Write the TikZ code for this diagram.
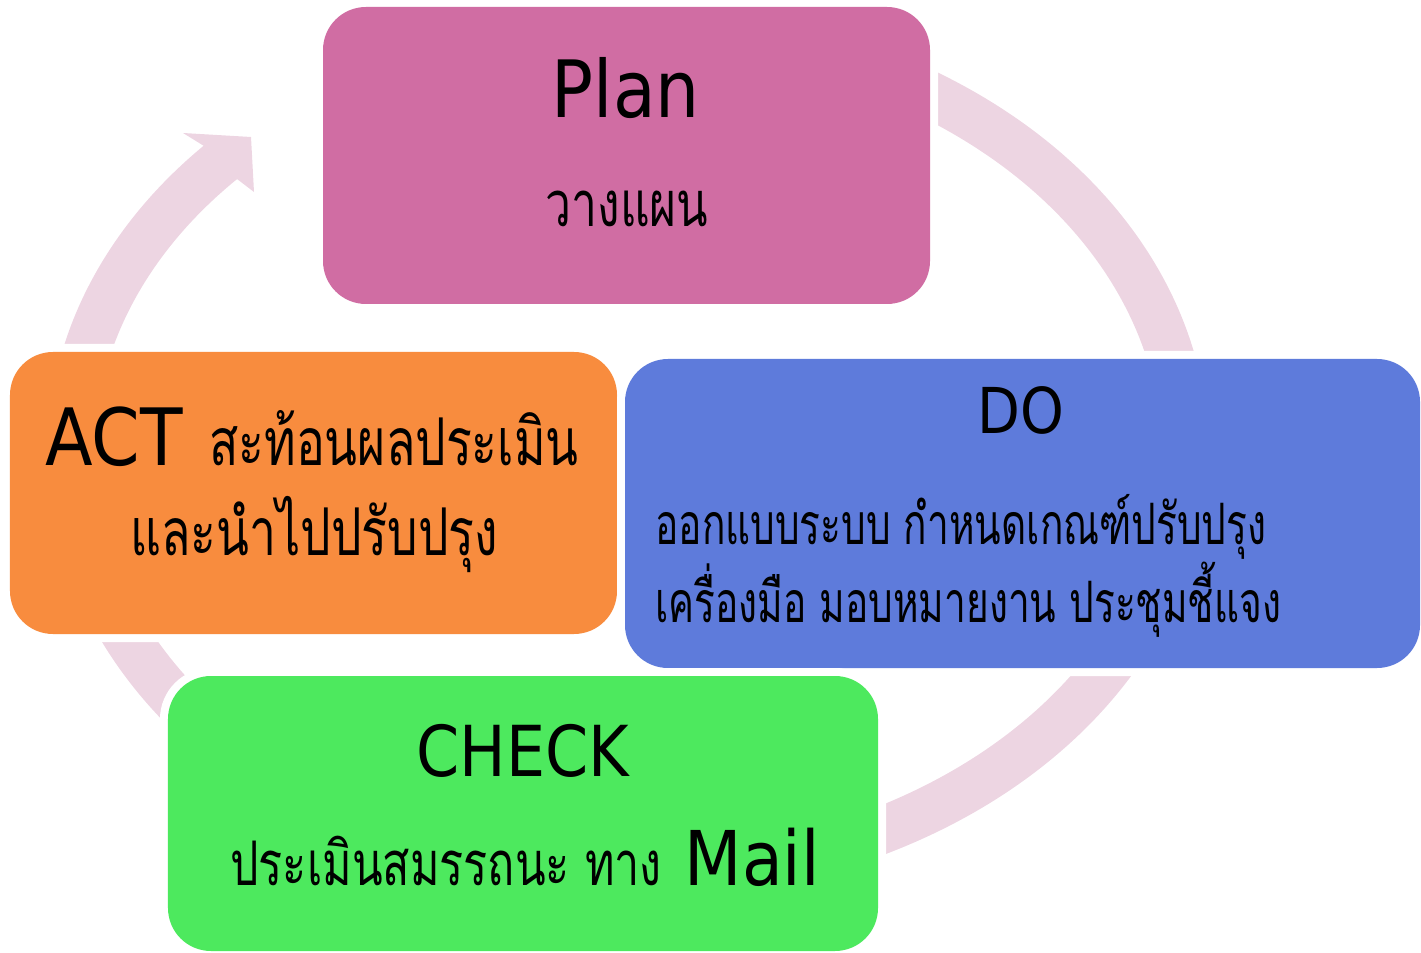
\documentclass[tikz,border=0pt]{standalone}
\usepackage{fontspec}
\setmainfont{DejaVu Sans}[FakeStretch=0.88]
\newfontfamily\thai[Script=Thai, FakeStretch=0.73]{Loma}
\newfontfamily\thainarrow[Script=Thai, FakeStretch=0.68]{Loma}
\usepackage{tikz}

\definecolor{plancol}{HTML}{D06DA3}
\definecolor{docol}{HTML}{5E7BDB}
\definecolor{actcol}{HTML}{F88C3E}
\definecolor{checkcol}{HTML}{4DE95E}
\definecolor{ringcol}{HTML}{EDD5E2}

\newcommand{\thaisz}[1]{\thai\fontsize{#1}{#1}\selectfont}

\begin{document}
\begin{tikzpicture}[x=0.2mm, y=-0.2mm]
	\tikzset{box/.style = {rounded corners=8.6mm, inner sep=0pt, fill=#1,
			preaction={draw=white, line width=3.2mm}},
		ring/.style = {draw=ringcol, line width=9.4mm},
		lbl/.style = {inner sep=0pt, anchor=base}}
	
	\useasboundingbox (0,0) rectangle (1421,953);
	
	% the cycle arrow behind the boxes
	\coordinate (ringc) at (628,452);
	\draw[ring] ([shift={(-60:557 and 425)}]ringc) arc[start angle=-60, end angle=223.5, x radius=557, y radius=425];
	\fill[ringcol] (204,146) -- (183,133) -- (251,137) -- (254,192) -- (237,179) -- cycle;
	
	\node[box=plancol, minimum width=121.4mm, minimum height=59.4mm] (plan) at (626.5,155.5) {};
	\node[box=actcol, minimum width=121.4mm, minimum height=56.4mm] (act) at (313.5,493) {};
	\node[box=docol, minimum width=159mm, minimum height=61.8mm] (do) at (1022.5,513.5) {};
	\node[box=checkcol, minimum width=142mm, minimum height=55mm] (check) at (523,813.5) {};
	
	% texts
	\node[lbl] (plan_t) at (626,118) {\fontsize{45}{45}\selectfont Plan};
	\node[lbl] (plan_th) at (627,227) {\thaisz{36}วางแผน};
	
	\node[lbl] (do_t) at (1021,434) {\fontsize{36}{36}\selectfont DO};
	\node[lbl, anchor=base west] (do_th1) at (655,545) {\thainarrow\fontsize{32.5}{32.5}\selectfont ออกแบบระบบ กำหนดเกณฑ์ปรับปรุง};
	\node[lbl, anchor=base west] (do_th2) at (655,622) {\thainarrow\fontsize{32.5}{32.5}\selectfont เครื่องมือ มอบหมายงาน ประชุมชี้แจง};
	
	\node[lbl, anchor=base west] (act_t) at (45,466) {{\fontsize{45}{45}\selectfont ACT}\hspace{15pt}{\thaisz{37.5}สะท้อนผลประเมิน}};
	\node[lbl] (act_th) at (314,555) {\thaisz{37.5}และนำไปปรับปรุง};
	
	\node[lbl] (check_t) at (523,776) {\fontsize{40}{40}\selectfont CHECK};
	\node[lbl, anchor=base west] (check_th) at (230,885) {{\thaisz{35}ประเมินสมรรถนะ ทาง}\hspace{13pt}{\fontsize{43}{43}\selectfont Mail}};
	
\end{tikzpicture}
\end{document}
